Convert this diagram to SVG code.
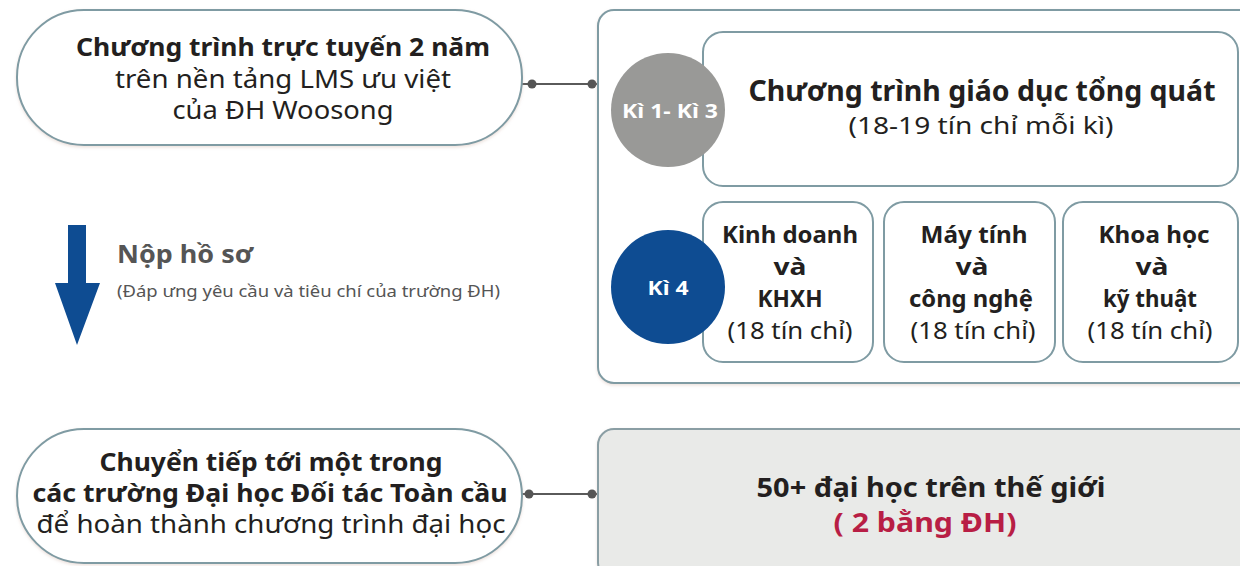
<svg xmlns="http://www.w3.org/2000/svg" width="1240" height="566" viewBox="0 0 1240 566">
<style>
text{font-family:"Noto Sans","Open Sans","DejaVu Sans",sans-serif;text-anchor:middle;fill:#231f20}
.b{font-weight:bold}
.box{fill:#fff;stroke:#7f9ba3;stroke-width:2}
.conn{stroke:#5a5a5a;stroke-width:2;fill:none}
.dot{fill:#555}
.w{fill:#fff;font-weight:bold}
</style>
<defs>
<filter id="sh" x="-5%" y="-5%" width="110%" height="115%">
<feDropShadow dx="0" dy="1.5" stdDeviation="1.5" flood-color="#c9a99a" flood-opacity="0.35"/>
</filter>
</defs>
<rect width="1240" height="566" fill="#fff"/>
<g id="connectors">
<line class="conn" x1="522" y1="84" x2="598" y2="84"/>
<circle class="dot" cx="532" cy="84" r="4.5"/>
<circle class="dot" cx="592" cy="84" r="4.5"/>
<line class="conn" x1="522" y1="494" x2="598" y2="494"/>
<circle class="dot" cx="529" cy="494" r="4.5"/>
<circle class="dot" cx="592" cy="494" r="4.5"/>
</g>
<g id="online-program">
<rect class="box" x="17" y="10" width="505" height="135" rx="67" filter="url(#sh)"/>
<text class="b" x="283" y="56" font-size="24.5" textLength="414" lengthAdjust="spacingAndGlyphs">Chương trình trực tuyến 2 năm</text>
<text x="283" y="88" font-size="24.5" textLength="336" lengthAdjust="spacingAndGlyphs">trên nền tảng LMS ưu việt</text>
<text x="283" y="119" font-size="24.5" textLength="221" lengthAdjust="spacingAndGlyphs">của ĐH Woosong</text>
</g>
<g id="container">
<rect class="box" x="598" y="10" width="660" height="373" rx="16" filter="url(#sh)"/>
</g>
<g id="general-education">
<rect class="box" x="703" y="32" width="535" height="154" rx="20"/>
<text class="b" x="982" y="101" font-size="28" textLength="467" lengthAdjust="spacingAndGlyphs">Chương trình giáo dục tổng quát</text>
<text x="981" y="134" font-size="24" textLength="265" lengthAdjust="spacingAndGlyphs">(18-19 tín chỉ mỗi kì)</text>
</g>
<g id="term-1-3">
<circle cx="668" cy="110" r="57" fill="#999997"/>
<text class="w" x="670" y="118" font-size="20" textLength="96" lengthAdjust="spacingAndGlyphs">Kì 1- Kì 3</text>
</g>
<g id="business">
<rect class="box" x="703" y="202" width="170" height="160" rx="20"/>
<text class="b" x="790" y="243" font-size="24" textLength="136" lengthAdjust="spacingAndGlyphs">Kinh doanh</text>
<text class="b" x="790" y="275" font-size="24" textLength="33" lengthAdjust="spacingAndGlyphs">và</text>
<text class="b" x="790" y="307" font-size="24" textLength="65" lengthAdjust="spacingAndGlyphs">KHXH</text>
<text x="790" y="339" font-size="24" textLength="125" lengthAdjust="spacingAndGlyphs">(18 tín chỉ)</text>
</g>
<g id="computing">
<rect class="box" x="884" y="202" width="171" height="160" rx="20"/>
<text class="b" x="974" y="243" font-size="24" textLength="107" lengthAdjust="spacingAndGlyphs">Máy tính</text>
<text class="b" x="972" y="275" font-size="24" textLength="33" lengthAdjust="spacingAndGlyphs">và</text>
<text class="b" x="971" y="307" font-size="24" textLength="124" lengthAdjust="spacingAndGlyphs">công nghệ</text>
<text x="973" y="339" font-size="24" textLength="125" lengthAdjust="spacingAndGlyphs">(18 tín chỉ)</text>
</g>
<g id="science">
<rect class="box" x="1063" y="202" width="175" height="160" rx="20"/>
<text class="b" x="1154" y="243" font-size="24" textLength="111" lengthAdjust="spacingAndGlyphs">Khoa học</text>
<text class="b" x="1152" y="275" font-size="24" textLength="33" lengthAdjust="spacingAndGlyphs">và</text>
<text class="b" x="1150" y="307" font-size="24" textLength="94" lengthAdjust="spacingAndGlyphs">kỹ thuật</text>
<text x="1150" y="339" font-size="24" textLength="125" lengthAdjust="spacingAndGlyphs">(18 tín chỉ)</text>
</g>
<g id="term-4">
<circle cx="668" cy="287" r="57" fill="#0e4c92"/>
<text class="w" x="668" y="295" font-size="20" textLength="41" lengthAdjust="spacingAndGlyphs">Kì 4</text>
</g>
<g id="apply">
<polygon points="68,225 86,225 86,283 100,283 77,345 55,283 68,283" fill="#0e4c92"/>
<text class="b" x="117" y="263" font-size="25" style="text-anchor:start;fill:#555" textLength="136" lengthAdjust="spacingAndGlyphs">Nộp hồ sơ</text>
<text x="117" y="297" font-size="16" style="text-anchor:start;fill:#555" textLength="383" lengthAdjust="spacingAndGlyphs">(Đáp ưng yêu cầu và tiêu chí của trường ĐH)</text>
</g>
<g id="transfer">
<rect class="box" x="17" y="429" width="505" height="134" rx="67" filter="url(#sh)"/>
<text class="b" x="271" y="471" font-size="24.5" textLength="343" lengthAdjust="spacingAndGlyphs">Chuyển tiếp tới một trong</text>
<text class="b" x="270" y="502" font-size="24.5" textLength="475" lengthAdjust="spacingAndGlyphs">các trường Đại học Đối tác Toàn cầu</text>
<text x="271" y="533" font-size="24.5" textLength="469" lengthAdjust="spacingAndGlyphs">để hoàn thành chương trình đại học</text>
</g>
<g id="partners">
<rect x="598" y="429" width="660" height="150" rx="16" fill="#e9eae8" stroke="#8a9ea4" stroke-width="2" filter="url(#sh)"/>
<text class="b" x="931" y="497" font-size="27" textLength="349" lengthAdjust="spacingAndGlyphs">50+ đại học trên thế giới</text>
<text class="b" x="925" y="532" font-size="27" style="fill:#b81e45" textLength="183" lengthAdjust="spacingAndGlyphs">( 2 bằng ĐH)</text>
</g>
</svg>
